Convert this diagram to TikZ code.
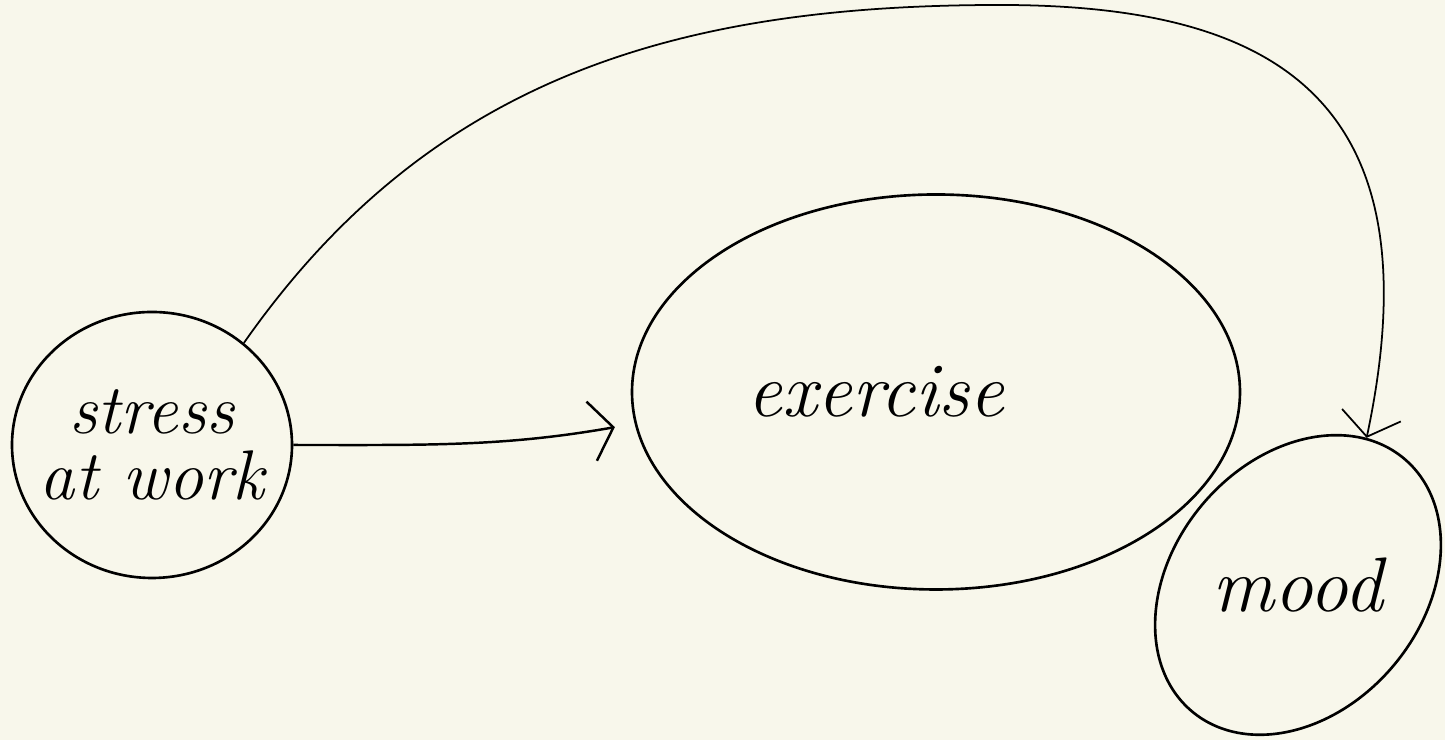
\documentclass[tikz,border=0pt]{standalone}
\usetikzlibrary{arrows.meta,positioning,shapes.geometric}
\definecolor{paper}{HTML}{F8F7EB}
\tikzset{
  blob/.style={ellipse, draw=black, line width=0.75pt, inner sep=0pt, align=center, font=\fontsize{22}{22}\selectfont\itshape},
  arrow/.style={-{Straight Barb[length=2.2mm,width=6mm]}, line width=0.7pt},
  longarrow/.style={-{Straight Barb[length=2.2mm,width=6mm]}, line width=0.5pt}
}
\begin{document}
\begin{tikzpicture}
  \fill[paper] (0,0) rectangle (14.45,7.40);
  \useasboundingbox (0,0) rectangle (14.45,7.40);
  \node[blob, inner sep=-4mm, minimum width=2.8cm, minimum height=2.66cm, font=\fontsize{20}{20}\selectfont\itshape] (stress) at (1.52,2.95) {stress\\[-1pt]at work};
  \node[blob, minimum width=6.08cm, minimum height=3.95cm] (exercise) at (9.36,3.48) {\hspace*{-1.2cm}exercise};
  \node[blob, rotate=50, minimum width=3.3cm, minimum height=2.5cm] (mood) at (12.98,1.55) {\rotatebox{-50}{mood}};
  \coordinate (arctop) at (10,7.35);
  \draw[arrow, shorten >=2mm] (stress.east) to[out=0,in=190] (exercise.186);
  \draw[longarrow] (stress.48) to[out=55,in=180] (arctop)
    to[out=0,in=78,out looseness=1.2,in looseness=1.6] (mood.15);
\end{tikzpicture}
\end{document}
